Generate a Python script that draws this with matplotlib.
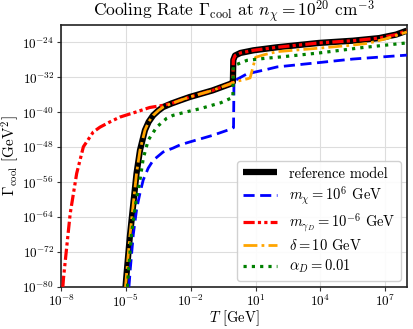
import numpy as np
import matplotlib
matplotlib.use("Agg")
import matplotlib.pyplot as plt

plt.rcParams['font.family'] = 'serif'
plt.rcParams['font.serif'] = ['cmr10', 'DejaVu Serif']
plt.rcParams['mathtext.fontset'] = 'cm'
plt.rcParams['axes.formatter.use_mathtext'] = True
plt.rcParams['axes.unicode_minus'] = False

# log10(T / GeV) and log10(Gamma / GeV^2)
ref_logT = [-5.02, -4.97, -4.82, -4.66, -4.51, -4.35, -4.12, -3.95, -3.74, -3.5, -3.28,
            -2.9, -2.51, -2.05, -1.0, -0.12, -0.05, -0.03, 0.05, 0.3, 0.9, 2.0, 3.95,
            5.5, 6.72, 7.5, 8.0]
ref_logG = [-80.0, -77.0, -68.5, -61.0, -54.0, -48.7, -44.1, -42.2, -40.7, -39.6, -38.8,
            -38.0, -37.3, -36.5, -35.0, -33.4, -33.1, -28.0, -27.0, -26.4, -25.8, -25.1,
            -24.1, -23.6, -23.0, -22.2, -21.3]

mchi_logT = [-4.86, -4.8, -4.66, -4.5, -4.35, -4.2, -3.97, -3.74, -3.28, -2.82, -2.51,
             -2.05, -1.0, -0.12, -0.02, 0.0, 0.05, 0.6, 1.5, 2.0, 3.95, 5.5, 8.0]
mchi_logG = [-80.0, -76.0, -68.0, -62.0, -58.5, -55.5, -52.8, -51.0, -49.1, -48.2, -47.5,
             -46.8, -45.3, -43.8, -43.5, -33.0, -32.7, -31.2, -30.2, -29.6, -28.6, -27.8,
             -26.9]

mgam_logT = [-7.92, -7.89, -7.74, -7.58, -7.28, -6.97, -6.51, -6.2, -5.74, -5.28, -4.51,
             -3.9, -3.28, -2.9, -2.51, -2.05, -1.0, -0.12, -0.05, -0.03, 0.05, 0.3, 0.9,
             2.0, 3.95, 5.5, 6.72, 7.5, 8.0]
mgam_logG = [-80.0, -78.0, -70.8, -63.2, -54.0, -47.9, -44.5, -43.4, -42.2, -41.1, -39.9,
             -38.9, -38.4, -38.0, -37.3, -36.5, -35.0, -33.4, -33.1, -28.0, -27.0, -26.4,
             -25.8, -25.1, -24.1, -23.6, -23.0, -22.2, -21.3]

delta_logT = [-5.02, -4.97, -4.82, -4.66, -4.51, -4.35, -4.12, -3.95, -3.74, -3.5, -3.28,
              -2.9, -2.51, -2.05, -1.0, -0.12, 0.05, 0.64, 0.75, 1.0, 1.4, 2.0, 3.95,
              5.5, 6.2, 7.0, 8.0]
delta_logG = [-80.0, -77.0, -68.5, -61.0, -54.0, -48.7, -44.1, -42.2, -40.7, -39.6, -38.8,
              -38.0, -37.3, -36.5, -35.0, -33.4, -33.0, -32.3, -32.1, -27.4, -26.8, -26.1,
              -25.3, -24.6, -24.2, -23.2, -21.6]

alpha_logT = [-4.93, -4.89, -4.74, -4.55, -4.35, -4.2, -3.97, -3.58, -3.12, -2.82, -2.2,
              -1.59, -0.6, -0.2, -0.05, -0.03, 0.05, 0.6, 1.5, 2.0, 3.95, 5.9, 8.0]
alpha_logG = [-80.0, -77.0, -67.7, -61.0, -55.5, -50.6, -46.4, -43.4, -41.4, -40.7, -39.9,
              -39.2, -37.8, -36.9, -36.6, -29.5, -29.2, -28.1, -27.6, -27.4, -26.4, -25.2,
              -24.1]

labels = ["reference model", r"$m_\chi = 10^6$ GeV", r"$m_{\gamma_D} = 10^{-6}$ GeV",
          r"$\delta = 10$ GeV", r"$\alpha_D = 0.01$"]

xticks_exp = [-8, -5, -2, 1, 4, 7]
yticks_exp = [-80, -72, -64, -56, -48, -40, -32, -24]

fig = plt.figure(figsize=(4.13, 3.29), dpi=100)
ax = fig.add_axes([0.148, 0.128, 0.837, 0.796])

def p(lt, lg):
    return 10.0 ** np.array(lt), 10.0 ** np.array(lg)

ax.plot(*p(ref_logT, ref_logG), color='black', lw=4.5, solid_capstyle='butt', label=labels[0], zorder=3)
ax.plot(*p(mchi_logT, mchi_logG), color='blue', lw=2.0, dashes=(4, 2), label=labels[1], zorder=4)
ax.plot(*p(mgam_logT, mgam_logG), color='red', lw=2.3, dashes=(3.5, 1, 1, 1, 1, 1), label=labels[2], zorder=5)
ax.plot(*p(delta_logT, delta_logG), color='orange', lw=2.0, dashes=(5, 1.5, 1, 1.5), label=labels[3], zorder=6)
ax.plot(*p(alpha_logT, alpha_logG), color='green', lw=2.3, dashes=(1, 1.6), label=labels[4], zorder=7)

ax.set_xscale('log')
ax.set_yscale('log')
ax.set_xlim(1e-8, 10 ** 8.0)
ax.set_ylim(1e-80, 1e-20)
ax.set_xticks([10.0 ** e for e in xticks_exp])
ax.set_yticks([10.0 ** e for e in yticks_exp])
ax.xaxis.set_minor_locator(matplotlib.ticker.NullLocator())
ax.yaxis.set_minor_locator(matplotlib.ticker.NullLocator())
ax.tick_params(labelsize=9.5, length=3, width=0.8, colors='#333333', labelcolor='black', pad=2)
ax.grid(True, color='#dddddd', lw=0.8)
ax.set_axisbelow(True)
for s in ax.spines.values():
    s.set_color('#222222')
    s.set_linewidth(1.2)

ax.set_xlabel(r"$T$ [GeV]", fontsize=10.5, labelpad=-1)
ax.set_ylabel(r"$\Gamma_{\rm cool}$ [GeV$^2$]", fontsize=11, labelpad=1)
ax.set_title(r"Cooling Rate $\Gamma_{\rm cool}$ at $n_\chi = 10^{20}$ cm$^{-3}$", fontsize=12.5, pad=4)

leg = ax.legend(loc='lower right', fontsize=10.5, handlelength=2.3, framealpha=0.9,
                labelspacing=0.3, edgecolor='#cccccc', fancybox=True, borderaxespad=0.4)

fig.savefig("out.png", dpi=100)
